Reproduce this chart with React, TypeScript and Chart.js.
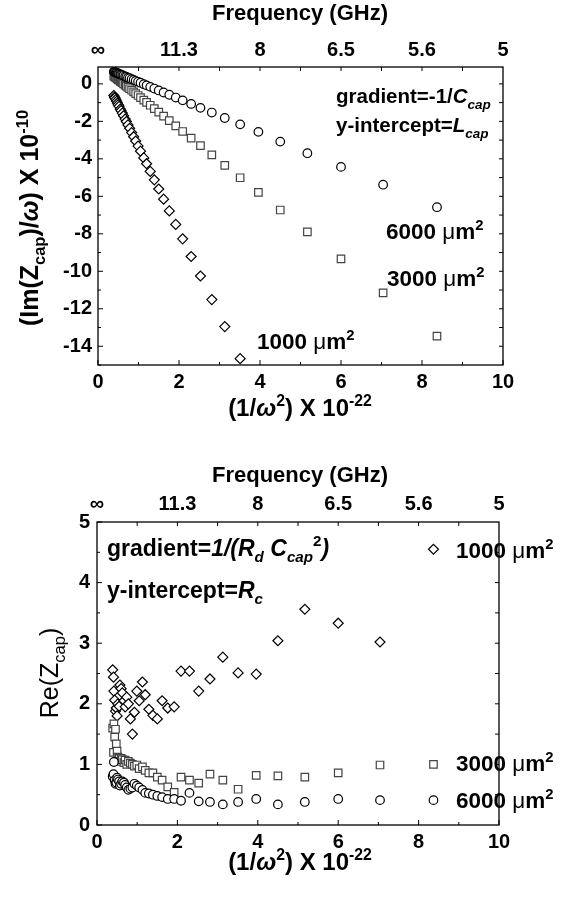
import React, { useEffect, useRef } from 'react';
import { Chart, registerables } from 'chart.js';
Chart.register(...registerables);

// ---- data ----
const invOmega2 = [0.39, 0.41, 0.42, 0.44, 0.46, 0.48, 0.50, 0.52, 0.55, 0.57, 0.60, 0.63, 0.67, 0.70, 0.74, 0.78, 0.83, 0.88, 0.93, 0.99, 1.05, 1.13, 1.20, 1.29, 1.39, 1.50, 1.62, 1.76, 1.92, 2.09, 2.30, 2.53, 2.81, 3.13, 3.51, 3.96, 4.50, 5.17, 6.00, 7.04, 8.37];

const imZ6000 = [0.65, 0.63, 0.62, 0.60, 0.59, 0.57, 0.55, 0.53, 0.51, 0.49, 0.46, 0.43, 0.40, 0.37, 0.33, 0.30, 0.25, 0.21, 0.16, 0.11, 0.06, -0.02, -0.08, -0.16, -0.25, -0.35, -0.46, -0.58, -0.73, -0.88, -1.07, -1.28, -1.53, -1.82, -2.16, -2.56, -3.08, -3.70, -4.43, -5.38, -6.58];
const imZ3000 = [0.42, 0.39, 0.37, 0.33, 0.30, 0.26, 0.23, 0.20, 0.14, 0.11, 0.06, 0.00, -0.07, -0.12, -0.19, -0.26, -0.34, -0.43, -0.52, -0.62, -0.73, -0.87, -0.99, -1.14, -1.32, -1.51, -1.72, -1.96, -2.24, -2.54, -2.90, -3.30, -3.79, -4.35, -5.01, -5.79, -6.73, -7.90, -9.34, -11.15, -13.46];
const imZ1000 = [-0.62, -0.71, -0.75, -0.84, -0.93, -1.02, -1.11, -1.20, -1.34, -1.43, -1.56, -1.70, -1.88, -2.01, -2.19, -2.37, -2.60, -2.82, -3.05, -3.32, -3.59, -3.95, -4.26, -4.67, -5.12, -5.61, -6.15, -6.78, -7.50, -8.27, -9.21, -10.25, -11.51, -12.95, -14.66];

const reZ1000 = [2.56, 2.44, 2.21, 2.06, 1.88, 1.93, 1.80, 2.00, 1.96, 2.31, 2.25, 2.18, 2.05, 1.95, 2.11, 2.00, 1.75, 1.50, 1.86, 2.21, 2.05, 2.36, 2.15, 1.91, 1.81, 1.75, 2.05, 1.93, 1.95, 2.54, 2.54, 2.21, 2.41, 2.77, 2.51, 2.49, 3.04, 3.56, 3.33, 3.02, 4.55];
const reZ3000 = [1.60, 1.20, 1.67, 1.45, 1.58, 1.34, 1.22, 1.12, 1.10, 1.05, 1.10, 1.08, 1.03, 1.07, 1.00, 1.05, 1.02, 1.00, 0.97, 0.99, 0.93, 0.96, 0.90, 0.86, 0.86, 0.79, 0.74, 0.63, 0.54, 0.79, 0.74, 0.69, 0.84, 0.74, 0.59, 0.82, 0.81, 0.79, 0.86, 0.99, 1.00];
const reZ6000 = [0.80, 0.84, 1.04, 0.74, 0.68, 0.70, 0.78, 0.75, 0.72, 0.65, 0.68, 0.72, 0.70, 0.66, 0.62, 0.58, 0.60, 0.62, 0.68, 0.65, 0.62, 0.58, 0.53, 0.52, 0.50, 0.48, 0.46, 0.43, 0.43, 0.40, 0.53, 0.39, 0.38, 0.34, 0.38, 0.43, 0.34, 0.38, 0.43, 0.41, 0.41];

const xTicks = [0, 2, 4, 6, 8, 10];
const xMinorTicks = [1, 3, 5, 7, 9];
const freqTickLabels = ['∞', '11.3', '8', '6.5', '5.6', '5'];
const imYTicks = [0, -2, -4, -6, -8, -10, -12, -14];
const imYMinor = [-1, -3, -5, -7, -9, -11, -13, -15];
const reYTicks = [0, 1, 2, 3, 4, 5];
const reYMinor = [0.5, 1.5, 2.5, 3.5, 4.5];

// ---- rich text ----
type Seg = { t: string; i?: boolean; sub?: boolean; sup?: boolean; r?: boolean };
const FAM = '"Liberation Sans", Arial, sans-serif';
function segFont(s: Seg, size: number) {
  const sz = s.sub || s.sup ? size * 0.66 : size;
  return `${s.i ? 'italic ' : ''}${s.r ? '' : 'bold '}${sz}px ${FAM}`;
}
function drawRich(ctx: CanvasRenderingContext2D, segs: Seg[], x: number, y: number, size: number, align: string) {
  const widths = segs.map((s) => { ctx.font = segFont(s, size); return ctx.measureText(s.t).width; });
  const total = widths.reduce((a, b) => a + b, 0);
  let cx = align === 'center' ? x - total / 2 : x;
  ctx.textAlign = 'left';
  ctx.textBaseline = 'alphabetic';
  ctx.fillStyle = '#000';
  segs.forEach((s, k) => {
    ctx.font = segFont(s, size);
    const dy = s.sub ? size * 0.28 : s.sup ? -size * 0.42 : 0;
    ctx.fillText(s.t, cx, y + dy);
    cx += widths[k];
  });
}
type TextItem = { segs: Seg[]; x: number; y: number; size: number; align: string; rot?: boolean };

const um2 = (n: string): Seg[] => [{ t: n + ' ' }, { t: 'μ', r: true }, { t: 'm' }, { t: '2', sup: true }];
const freqTitle: Seg[] = [{ t: 'Frequency (GHz)' }];
const xTitle: Seg[] = [{ t: '(1/' }, { t: 'ω', i: true }, { t: '2', sup: true }, { t: ') X 10' }, { t: '-22', sup: true }];

type Spec = {
  xMinor: number[]; xTop: number[]; yMajor: number[]; yMinor: number[]; yRight: number[]; texts: TextItem[];
};

const framePlugin = {
  id: 'frameTicks',
  afterDraw(chart: any) {
    const spec: Spec = chart.options.plugins.frameTicks.spec;
    const { ctx, chartArea } = chart;
    const { left, right, top, bottom } = chartArea;
    const sx = chart.scales.x, sy = chart.scales.y;
    ctx.save();
    ctx.strokeStyle = '#000';
    ctx.lineWidth = 1;
    const line = (x1: number, y1: number, x2: number, y2: number) => { ctx.beginPath(); ctx.moveTo(x1, y1); ctx.lineTo(x2, y2); ctx.stroke(); };
    const maj = 5, mnr = 3;
    xTicks.forEach((v) => { const p = sx.getPixelForValue(v); line(p, bottom, p, bottom - maj); });
    spec.xMinor.forEach((v) => { const p = sx.getPixelForValue(v); line(p, bottom, p, bottom - mnr); });
    spec.xTop.forEach((v) => { const p = sx.getPixelForValue(v); line(p, top, p, top + 4); });
    spec.yMajor.forEach((v) => { const p = sy.getPixelForValue(v); line(left, p, left + maj, p); });
    spec.yMinor.forEach((v) => { const p = sy.getPixelForValue(v); line(left, p, left + mnr, p); });
    spec.yRight.forEach((v) => { const p = sy.getPixelForValue(v); line(right, p, right - 4, p); });
    spec.texts.forEach((t) => {
      if (t.rot) {
        ctx.save();
        ctx.translate(t.x, t.y);
        ctx.rotate(-Math.PI / 2);
        drawRich(ctx, t.segs, 0, 0, t.size, t.align);
        ctx.restore();
      } else {
        drawRich(ctx, t.segs, t.x, t.y, t.size, t.align);
      }
    });
    ctx.lineWidth = 1.3;
    ctx.strokeRect(left, top, right - left, bottom - top);
    ctx.restore();
  },
};

const TICK_FONT = { family: FAM, size: 20, weight: 'bold' as const };

function makeScales(yMin: number, yMax: number, yTicks: number[], dims: { l: number; r: number; t: number; b: number }, pads: { x: number; x2: number; y: number }) {
  const common = { grid: { display: false, drawTicks: false }, border: { display: false } };
  return {
    x: {
      type: 'linear', position: 'bottom', axis: 'x', min: 0, max: 10, ...common,
      afterBuildTicks: (s: any) => { s.ticks = xTicks.map((v) => ({ value: v })); },
      ticks: { font: TICK_FONT, color: '#000', padding: pads.x, maxRotation: 0, autoSkip: false, callback: (v: any) => String(v) },
      afterFit: (s: any) => { s.height = dims.b; },
    },
    x2: {
      type: 'linear', position: 'top', axis: 'x', min: 0, max: 10, ...common,
      afterBuildTicks: (s: any) => { s.ticks = xTicks.map((v) => ({ value: v })); },
      ticks: { font: TICK_FONT, color: '#000', padding: pads.x2, maxRotation: 0, autoSkip: false, callback: (_v: any, i: number) => freqTickLabels[i] },
      afterFit: (s: any) => { s.height = dims.t; },
    },
    y: {
      type: 'linear', position: 'left', axis: 'y', min: yMin, max: yMax, ...common,
      afterBuildTicks: (s: any) => { s.ticks = yTicks.map((v) => ({ value: v })); },
      ticks: { font: TICK_FONT, color: '#000', padding: pads.y, autoSkip: false, callback: (v: any) => String(v) },
      afterFit: (s: any) => { s.width = dims.l; },
    },
    y2: {
      type: 'linear', position: 'right', axis: 'y', min: yMin, max: yMax, ...common,
      ticks: { display: false },
      afterFit: (s: any) => { s.width = dims.r; },
    },
  };
}

function series(label: string, ys: number[], style: string, radius: number, color: string) {
  return {
    label,
    data: ys.map((y, i) => ({ x: invOmega2[i], y })),
    pointStyle: style,
    pointRadius: radius,
    pointBackgroundColor: '#fff',
    pointBorderColor: color,
    pointBorderWidth: 1.2,
    showLine: false,
  };
}

function config(datasets: any[], scales: any, spec: Spec) {
  return {
    type: 'scatter',
    data: { datasets },
    options: {
      responsive: false,
      animation: false,
      devicePixelRatio: 1,
      layout: { padding: 0 },
      scales,
      plugins: { legend: { display: false }, tooltip: { enabled: false }, frameTicks: { spec } },
    },
    plugins: [framePlugin],
  } as any;
}

export default function App() {
  const topRef = useRef<HTMLCanvasElement>(null);
  const botRef = useRef<HTMLCanvasElement>(null);
  useEffect(() => {
    const topSpec: Spec = {
      xMinor: xMinorTicks, xTop: [1, 2, 3, 4, 5, 6, 7, 8, 9], yMajor: imYTicks, yMinor: imYMinor,
      yRight: [0, -1, -2, -3, -4, -5, -6, -7, -8, -9, -10, -11, -12, -13, -14],
      texts: [
        { segs: freqTitle, x: 300, y: 20, size: 22, align: 'center' },
        { segs: xTitle, x: 300, y: 416, size: 24, align: 'center' },
        { segs: [{ t: '(Im(Z' }, { t: 'cap', sub: true }, { t: ')/' }, { t: 'ω', i: true }, { t: ') X 10' }, { t: '-10', sup: true }], x: 38, y: 218, size: 25, align: 'center', rot: true },
        { segs: [{ t: 'gradient=-1/' }, { t: 'C', i: true }, { t: 'cap', i: true, sub: true }], x: 336, y: 103, size: 20.5, align: 'left' },
        { segs: [{ t: 'y-intercept=' }, { t: 'L', i: true }, { t: 'cap', i: true, sub: true }], x: 336, y: 132, size: 20.5, align: 'left' },
        { segs: um2('6000'), x: 386, y: 239, size: 22.5, align: 'left' },
        { segs: um2('3000'), x: 387, y: 286, size: 22.5, align: 'left' },
        { segs: um2('1000'), x: 257, y: 349, size: 22.5, align: 'left' },
      ],
    };
    const botSpec: Spec = {
      xMinor: xMinorTicks, xTop: [1, 2, 3, 4, 5, 6, 7, 8, 9], yMajor: reYTicks, yMinor: reYMinor,
      yRight: [0.5, 1, 1.5, 2, 2.5, 3, 3.5, 4, 4.5],
      texts: [
        { segs: freqTitle, x: 300, y: 42, size: 22, align: 'center' },
        { segs: xTitle, x: 300, y: 430, size: 24, align: 'center' },
        { segs: [{ t: 'Re(Z', r: true }, { t: 'cap', r: true, sub: true }, { t: ')', r: true }], x: 58, y: 233, size: 25, align: 'center', rot: true },
        { segs: [{ t: 'gradient=' }, { t: '1/(R', i: true }, { t: 'd', i: true, sub: true }, { t: ' C', i: true }, { t: 'cap', i: true, sub: true }, { t: '2', sup: true }, { t: ')', i: true }], x: 107, y: 116, size: 23, align: 'left' },
        { segs: [{ t: 'y-intercept=' }, { t: 'R', i: true }, { t: 'c', i: true, sub: true }], x: 107, y: 158, size: 23, align: 'left' },
        { segs: um2('1000'), x: 456, y: 118, size: 22.5, align: 'left' },
        { segs: um2('3000'), x: 456, y: 331, size: 22.5, align: 'left' },
        { segs: um2('6000'), x: 456, y: 368, size: 22.5, align: 'left' },
      ],
    };
    const topChart = new Chart(topRef.current!, config(
      [series('6000 μm²', imZ6000, 'circle', 4.3, '#000'), series('3000 μm²', imZ3000, 'rect', 5.3, '#444'), series('1000 μm²', imZ1000, 'rectRot', 5, '#000')],
      makeScales(-15, 0.9, imYTicks, { l: 98, r: 74, t: 67, b: 75 }, { x: 5, x2: 5, y: 6 }),
      topSpec,
    ));
    const botChart = new Chart(botRef.current!, config(
      [series('6000 μm²', reZ6000, 'circle', 4.3, '#000'), series('3000 μm²', reZ3000, 'rect', 5.3, '#444'), series('1000 μm²', reZ1000, 'rectRot', 5, '#000')],
      makeScales(0, 5, reYTicks, { l: 97, r: 78, t: 82, b: 72 }, { x: 5, x2: 6, y: 7 }),
      botSpec,
    ));
    return () => { topChart.destroy(); botChart.destroy(); };
  }, []);
  return (
    <div style={{ position: 'absolute', left: 0, top: 0, width: 577, height: 897, background: '#fff' }}>
      <canvas ref={topRef} width={577} height={440} style={{ position: 'absolute', left: 0, top: 0, width: 577, height: 440 }} />
      <canvas ref={botRef} width={577} height={457} style={{ position: 'absolute', left: 0, top: 440, width: 577, height: 457 }} />
    </div>
  );
}
